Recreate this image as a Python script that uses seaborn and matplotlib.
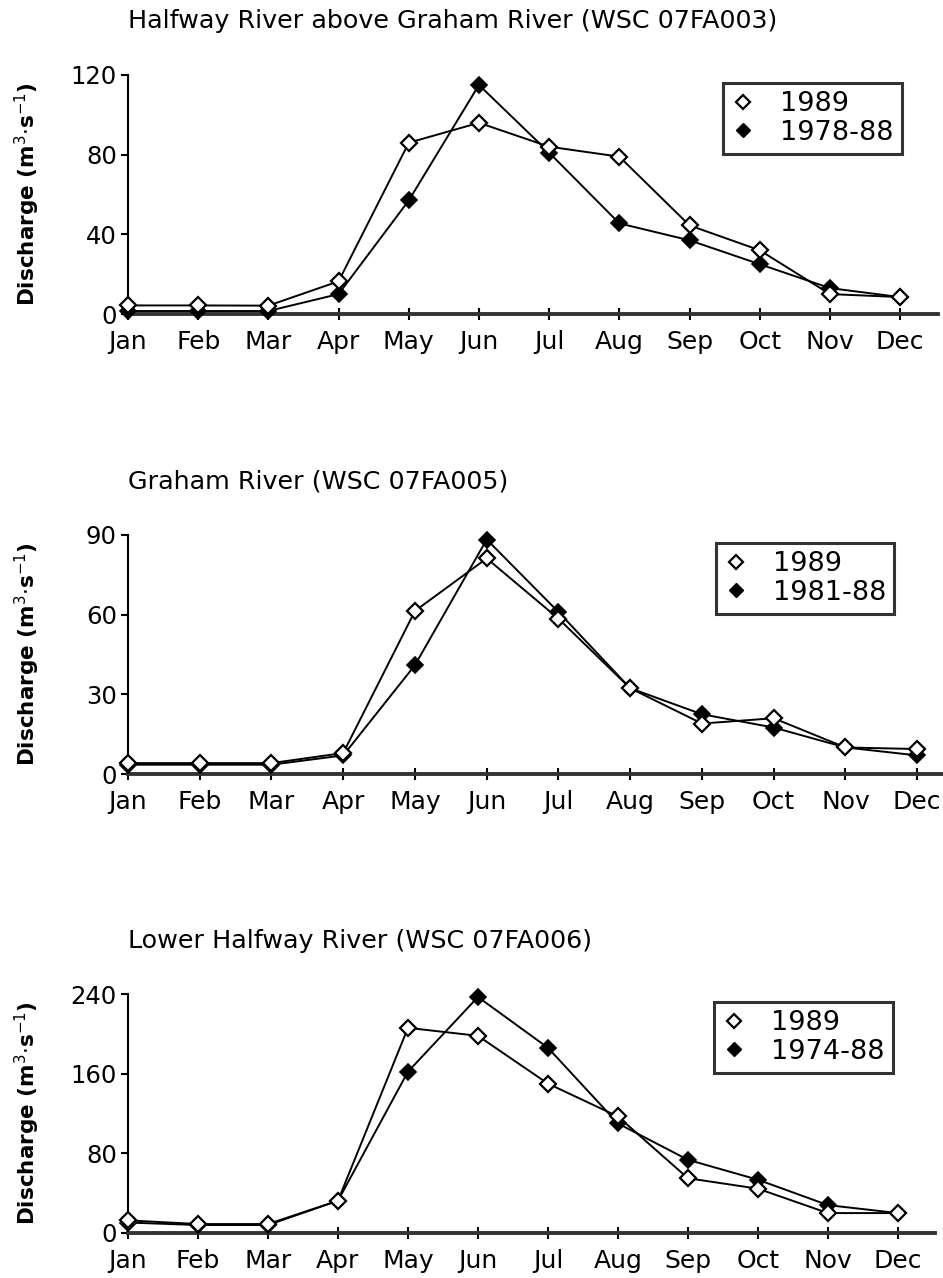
import numpy as np
import matplotlib
matplotlib.use("Agg")
import matplotlib.pyplot as plt
from matplotlib.lines import Line2D
import seaborn as sns

months = ["Jan", "Feb", "Mar", "Apr", "May", "Jun", "Jul", "Aug", "Sep", "Oct", "Nov", "Dec"]

titles = [
    "Halfway River above Graham River (WSC 07FA003)",
    "Graham River (WSC 07FA005)",
    "Lower Halfway River (WSC 07FA006)",
]
period_labels = ["1978-88", "1981-88", "1974-88"]

halfway_1989 = [4.3, 4.3, 4.2, 16.4, 86, 96, 84, 79, 44.5, 32, 10, 8.5]
halfway_mean = [1.5, 1.5, 1.5, 10, 57, 115, 81, 45.5, 37, 25, 13, 8.5]

graham_1989 = [4.1, 4.1, 4.1, 7.9, 61.4, 81.2, 58.5, 32.3, 19, 21, 10, 9.4]
graham_mean = [3.5, 3.5, 3.5, 7, 41, 88.3, 61, 32.3, 22.5, 17.5, 10, 7]

lower_1989 = [12.7, 9, 9, 32.4, 206, 198, 150, 117, 55, 44.5, 20, 20]
lower_mean = [10.5, 8, 8, 32.4, 162, 237, 186, 110, 73.5, 53.5, 28, 20]

series_1989 = [halfway_1989, graham_1989, lower_1989]
series_mean = [halfway_mean, graham_mean, lower_mean]
y_maxes = [120, 90, 240]
y_ticks = [[0, 40, 80, 120], [0, 30, 60, 90], [0, 80, 160, 240]]
x_right = [11.54, 11.36, 11.53]

W, H = 943, 1278
fig = plt.figure(figsize=(W / 100, H / 100), dpi=100)
sns.set_style("white")
plt.rcParams['font.family'] = ['DejaVu Sans']
plt.rcParams['text.color'] = 'black'
plt.rcParams['axes.labelcolor'] = 'black'
plt.rcParams['xtick.color'] = 'black'
plt.rcParams['ytick.color'] = 'black'

# axes rectangles in pixels: left, top(y of ymax), right, bottom(y of 0)
rects = [(128, 75, 938, 314), (128, 535, 943, 774), (128, 994, 935, 1233)]
title_y = [21, 482, 941]
legend_boxes = [(723, 83), (716, 543), (714, 1002)]

x = np.arange(len(months))
for i in range(3):
    l, t, r, b = rects[i]
    ax = fig.add_axes([l / W, 1 - b / H, (r - l) / W, (b - t) / H])
    ax.set_facecolor("white")
    sns.lineplot(x=x, y=series_mean[i], ax=ax, color="black", linewidth=1.4,
                 marker="D", markersize=8.5, markerfacecolor="black",
                 markeredgecolor="black", markeredgewidth=1.2, clip_on=False, zorder=3)
    sns.lineplot(x=x, y=series_1989[i], ax=ax, color="black", linewidth=1.4,
                 marker="D", markersize=8.5, markerfacecolor="white",
                 markeredgecolor="black", markeredgewidth=1.6, clip_on=False, zorder=4)
    ax.set_xlim(0, x_right[i])
    ax.set_ylim(0, y_maxes[i])
    ax.set_xticks(x)
    ax.set_xticklabels(months, fontsize=18, color="black")
    ax.set_yticks(y_ticks[i])
    ax.set_yticklabels([str(v) for v in y_ticks[i]], fontsize=17.5, color="black")
    for s in ["top", "right"]:
        ax.spines[s].set_visible(False)
    ax.spines["bottom"].set_linewidth(2.8)
    ax.spines["bottom"].set_color("#333333")
    ax.spines["left"].set_linewidth(1.5)
    ax.spines["left"].set_color("black")
    ax.tick_params(axis="x", direction="inout", length=9, width=1.5, pad=7,
                   colors="black", bottom=True)
    ax.tick_params(axis="y", direction="out", length=5, width=1.5, pad=3,
                   colors="black", left=True)
    ax.set_ylabel("Discharge (m$^{3}$$\\cdot$s$^{-1}$)", fontsize=15.5, fontweight="bold",
                  color="black")
    ax.yaxis.set_label_coords(-(128 - 42) / (r - l), 0.5)
    ax.set_xlabel("")
    fig.text(128 / W, 1 - title_y[i] / H, titles[i], fontsize=18.3, ha="left",
             va="center", color="black")
    handles = [
        Line2D([], [], linestyle="none", marker="D", markersize=7.5,
               markerfacecolor="white", markeredgecolor="black", markeredgewidth=1.6),
        Line2D([], [], linestyle="none", marker="D", markersize=7.5,
               markerfacecolor="black", markeredgecolor="black"),
    ]
    lx, ly = legend_boxes[i]
    leg = ax.legend(handles, ["1989", period_labels[i]], loc="upper left",
                    bbox_to_anchor=(lx / W, 1 - ly / H), bbox_transform=fig.transFigure,
                    fontsize=19.5, frameon=True, fancybox=False, handlelength=0.9,
                    handletextpad=0.9, borderpad=0.3, labelspacing=0.1,
                    borderaxespad=0, labelcolor="black")
    leg.get_frame().set_edgecolor("black")
    leg.get_frame().set_linewidth(2.2)

fig.savefig("out.png", dpi=100, facecolor="white")
